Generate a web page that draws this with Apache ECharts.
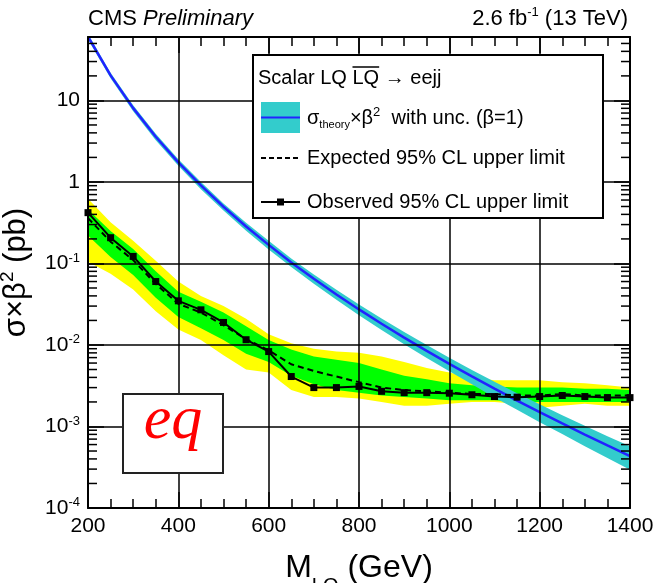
<!DOCTYPE html>
<html><head><meta charset="utf-8">
<script src="https://cdn.jsdelivr.net/npm/echarts@6/dist/echarts.min.js"></script>
<style>html,body{margin:0;padding:0;background:#fff}#c{width:654px;height:583px}</style>
</head><body><div id="c"></div>
<script>
// ---- data ----
const masses = [200,250,300,350,400,450,500,550,600,650,700,750,800,850,900,950,1000,1050,1100,1150,1200,1250,1300,1350,1400];
const theory = [60.6,20.3,8.05,3.58,1.74,0.906,0.496,0.284,0.169,0.103,0.0648,0.0416,0.0273,0.0182,0.0123,0.00845,0.00586,0.00411,0.00291,0.00208,0.00150,0.00109,0.000795,0.000585,0.000433];
const theoryUnc = [0.08,0.08,0.085,0.09,0.09,0.10,0.10,0.11,0.12,0.12,0.13,0.14,0.15,0.16,0.17,0.18,0.19,0.20,0.22,0.23,0.25,0.26,0.28,0.30,0.32];
const observed = [0.42,0.207,0.122,0.060,0.0348,0.027,0.0189,0.0116,0.0083,0.0041,0.0030,0.0030,0.0031,0.0027,0.0026,0.0026,0.00256,0.00245,0.00233,0.00229,0.00233,0.0024,0.00233,0.00226,0.00226];
const expected = [0.36,0.185,0.110,0.056,0.032,0.025,0.0175,0.0118,0.0086,0.0058,0.0048,0.0041,0.0035,0.0030,0.0028,0.0027,0.0026,0.0025,0.0025,0.0024,0.0024,0.0025,0.0024,0.0024,0.0024];
const green1Low  = [0.22,0.12,0.072,0.038,0.022,0.016,0.0115,0.0078,0.0062,0.0042,0.0033,0.0028,0.0026,0.0024,0.0023,0.0022,0.0021,0.0021,0.0021,0.0020,0.0020,0.0020,0.0020,0.0020,0.0020];
const green1High = [0.46,0.25,0.15,0.08,0.045,0.034,0.025,0.017,0.0115,0.0088,0.0072,0.0066,0.0060,0.0050,0.0042,0.0038,0.0034,0.0032,0.0031,0.0030,0.0030,0.0030,0.0029,0.0029,0.0028];
const yellow2Low  = [0.105,0.075,0.048,0.026,0.0155,0.0115,0.0075,0.0050,0.0046,0.0028,0.0023,0.0023,0.0022,0.0020,0.0018,0.0018,0.0019,0.0020,0.0020,0.0019,0.0017,0.0018,0.0019,0.0018,0.0018];
const yellow2High = [0.62,0.32,0.19,0.108,0.060,0.040,0.030,0.021,0.0135,0.0105,0.0090,0.0083,0.0080,0.0072,0.0062,0.0052,0.0046,0.0040,0.0037,0.0037,0.0037,0.0035,0.0034,0.0032,0.0030];
const xTicks = [200,400,600,800,1000,1200,1400];
const yTicks = [1e-4,1e-3,1e-2,1e-1,1,10];
const yMinorTicks = [];
for (let e = -4; e <= 1; e++) for (let k = 2; k <= 9; k++) { const v = k * Math.pow(10, e); if (v < 60) yMinorTicks.push(v); }

const FONT = "'Liberation Sans', Arial, sans-serif";
const chart = echarts.init(document.getElementById('c'), null, {renderer: 'canvas'});

function band(name, lo, hi, color, z) {
  return {
    type: 'custom', name: name, z: z, silent: true, clip: true,
    data: [[masses[0], lo[0]]],
    renderItem: function (params, api) {
      const pts = [];
      for (let i = 0; i < masses.length; i++) pts.push(api.coord([masses[i], hi[i]]));
      for (let i = masses.length - 1; i >= 0; i--) pts.push(api.coord([masses[i], lo[i]]));
      return {type: 'polygon', shape: {points: pts}, style: {fill: color}};
    }
  };
}
const theoryLow = theory.map((t, i) => t * (1 - theoryUnc[i]));
const theoryHigh = theory.map((t, i) => t * (1 + theoryUnc[i]));

const axisLineStyle = {color: '#000', width: 2};
const tickStyle = {color: '#000', width: 1.5};

// measure for overline in legend title
const mctx = document.createElement('canvas').getContext('2d');
mctx.font = "20px " + FONT;
const preW = mctx.measureText('Scalar LQ ').width;
const lqW = mctx.measureText('LQ').width;
const LX = 258;

const option = {
  animation: false,
  backgroundColor: '#fff',
  grid: {left: 88, right: 24, top: 37, bottom: 75, containLabel: false, outerBoundsMode: 'none'},
  xAxis: [{
    type: 'value', min: 200, max: 1400, interval: 200, position: 'bottom', z: 5,
    axisLine: {show: true, onZero: false, lineStyle: axisLineStyle},
    axisTick: {show: true, inside: true, length: 16, lineStyle: tickStyle},
    minorTick: {show: true, splitNumber: 4, length: 9, lineStyle: tickStyle},
    splitLine: {show: true, lineStyle: {color: '#000', width: 1.5}},
    axisLabel: {margin: 8, fontSize: 21, color: '#000', fontFamily: FONT,
      formatter: v => xTicks.indexOf(v) >= 0 ? String(v) : ''},
    name: '{m|M}{s|LQ}{m| (GeV)}', nameLocation: 'middle', nameGap: 44,
    nameTextStyle: {rich: {
      m: {fontSize: 32, fontFamily: FONT, color: '#000', lineHeight: 36, verticalAlign: 'top'},
      s: {fontSize: 20, fontFamily: FONT, color: '#000', lineHeight: 44, verticalAlign: 'bottom'}
    }}
  }, {
    type: 'value', min: 200, max: 1400, interval: 200, position: 'top', z: 5,
    axisLine: {show: true, onZero: false, lineStyle: axisLineStyle},
    axisTick: {show: true, inside: true, length: 16, lineStyle: tickStyle},
    minorTick: {show: true, splitNumber: 4, length: 9, lineStyle: tickStyle},
    splitLine: {show: false}, axisLabel: {show: false}
  }],
  yAxis: [{
    type: 'log', logBase: 10, min: 1e-4, max: 60, position: 'left', z: 5,
    axisLine: {show: true, onZero: false, lineStyle: axisLineStyle},
    axisTick: {show: true, inside: true, length: 16, lineStyle: tickStyle},
    splitLine: {show: true, lineStyle: {color: '#000', width: 1.5}},
    axisLabel: {margin: 8, showMaxLabel: false,
      formatter: function (v) {
        const e = Math.round(Math.log10(v));
        if (!yTicks.some(t => Math.abs(t / v - 1) < 1e-6)) return '';
        if (e === 0) return '{b|1}';
        if (e === 1) return '{b|10}';
        return '{b|10}{s|' + e + '}';
      },
      rich: {
        b: {fontSize: 21, fontFamily: FONT, color: '#000', lineHeight: 24},
        s: {fontSize: 13, fontFamily: FONT, color: '#000', lineHeight: 14, verticalAlign: 'top'}
      }
    },
    name: '{m|σ×β}{p|2}{m| (pb)}', nameLocation: 'middle', nameRotate: 90, nameGap: 54,
    nameTextStyle: {rich: {
      m: {fontSize: 31, fontFamily: FONT, color: '#000', lineHeight: 36},
      p: {fontSize: 19, fontFamily: FONT, color: '#000', lineHeight: 20, verticalAlign: 'top'}
    }}
  }, {
    type: 'log', logBase: 10, min: 1e-4, max: 60, position: 'right', z: 5,
    axisLine: {show: true, onZero: false, lineStyle: axisLineStyle},
    axisTick: {show: true, inside: true, length: 16, lineStyle: tickStyle},
    splitLine: {show: false}, axisLabel: {show: false}
  }],
  series: [
    band('±2σ', yellow2Low, yellow2High, '#ffff00', 1),
    band('±1σ', green1Low, green1High, '#00ff00', 1.5),
    band('theory unc', theoryLow, theoryHigh, '#33cccc', 2),
    {type: 'line', name: 'theory', z: 3, clip: true, showSymbol: false, symbol: 'none',
      data: masses.map((m, i) => [m, theory[i]]),
      lineStyle: {color: '#2222ff', width: 2.5}},
    {type: 'line', name: 'expected', z: 3, clip: true, showSymbol: false, symbol: 'none',
      data: masses.map((m, i) => [m, expected[i]]),
      lineStyle: {color: '#000', width: 2, type: [6, 4]}},
    {type: 'line', name: 'observed', z: 4, clip: true, symbol: 'rect', symbolSize: 7,
      data: masses.map((m, i) => [m, observed[i]]),
      lineStyle: {color: '#000', width: 2}, itemStyle: {color: '#000'}},
    {type: 'custom', name: 'minor ticks', z: 6, silent: true, clip: false,
      data: yMinorTicks.map(v => [200, v]),
      renderItem: function (params, api) {
        const v = api.value(1);
        const pL = api.coord([200, v]);
        const pR = api.coord([1400, v]);
        return {type: 'group', children: [
          {type: 'line', shape: {x1: pL[0], y1: pL[1], x2: pL[0] + 9, y2: pL[1]}, style: {stroke: '#000', lineWidth: 1.5}},
          {type: 'line', shape: {x1: pR[0] - 9, y1: pR[1], x2: pR[0], y2: pR[1]}, style: {stroke: '#000', lineWidth: 1.5}}
        ]};
      }}
  ],
  graphic: [
    // header texts
    {type: 'text', z: 100, style: {x: 88, y: 19, verticalAlign: 'middle', text: '{a|CMS }{i|Preliminary}',
      rich: {a: {fontSize: 22, fontFamily: FONT, fill: '#000'}, i: {fontSize: 22, fontFamily: FONT, fontStyle: 'italic', fill: '#000'}}}},
    {type: 'text', z: 100, style: {x: 628, y: 19, align: 'right', verticalAlign: 'middle', text: '{a|2.6 fb}{s|-1}{a| (13 TeV)}',
      rich: {a: {fontSize: 22, fontFamily: FONT, fill: '#000', lineHeight: 26}, s: {fontSize: 13, fontFamily: FONT, fill: '#000', lineHeight: 14, verticalAlign: 'top'}}}},
    // legend box
    {type: 'rect', z: 100, shape: {x: 253, y: 55, width: 350, height: 163}, style: {fill: '#fff', stroke: '#000', lineWidth: 2}},
    {type: 'text', z: 101, style: {x: LX, y: 78, verticalAlign: 'middle', text: 'Scalar LQ LQ → eejj', font: '20px ' + FONT, fill: '#000'}},
    {type: 'line', z: 101, shape: {x1: LX + preW, y1: 67, x2: LX + preW + lqW, y2: 67}, style: {stroke: '#000', lineWidth: 1.5}},
    {type: 'rect', z: 101, shape: {x: 261, y: 102, width: 39, height: 31}, style: {fill: '#33cccc'}},
    {type: 'line', z: 102, shape: {x1: 261, y1: 117.5, x2: 300, y2: 117.5}, style: {stroke: '#2222ff', lineWidth: 2}},
    {type: 'text', z: 101, style: {x: 307, y: 118, verticalAlign: 'middle',
      text: '{a|σ}{t|theory}{a|×β}{p|2}{a|  with unc. (β=1)}',
      rich: {a: {fontSize: 20, fontFamily: FONT, fill: '#000', lineHeight: 24},
             t: {fontSize: 11, fontFamily: FONT, fill: '#000', lineHeight: 10, verticalAlign: 'bottom'},
             p: {fontSize: 13, fontFamily: FONT, fill: '#000', lineHeight: 13, verticalAlign: 'top'}}}},
    {type: 'line', z: 101, shape: {x1: 261, y1: 158, x2: 300, y2: 158}, style: {stroke: '#000', lineWidth: 2, lineDash: [5, 3]}},
    {type: 'text', z: 101, style: {x: 307, y: 158, verticalAlign: 'middle', text: 'Expected 95% CL upper limit', font: '20px ' + FONT, fill: '#000'}},
    {type: 'line', z: 101, shape: {x1: 261, y1: 202, x2: 300, y2: 202}, style: {stroke: '#000', lineWidth: 2}},
    {type: 'rect', z: 102, shape: {x: 277, y: 198.5, width: 7, height: 7}, style: {fill: '#000'}},
    {type: 'text', z: 101, style: {x: 307, y: 202, verticalAlign: 'middle', text: 'Observed 95% CL upper limit', font: '20px ' + FONT, fill: '#000'}},
    // eq box
    {type: 'rect', z: 100, shape: {x: 123, y: 394, width: 100, height: 79}, style: {fill: '#fff', stroke: '#222', lineWidth: 2}},
    {type: 'text', z: 101, style: {x: 173, y: 422, align: 'center', verticalAlign: 'middle', text: 'eq',
      font: 'italic 62px "Liberation Serif", "DejaVu Serif", serif', fill: '#ff0000'}}
  ]
};
chart.setOption(option);
</script>
</body></html>
